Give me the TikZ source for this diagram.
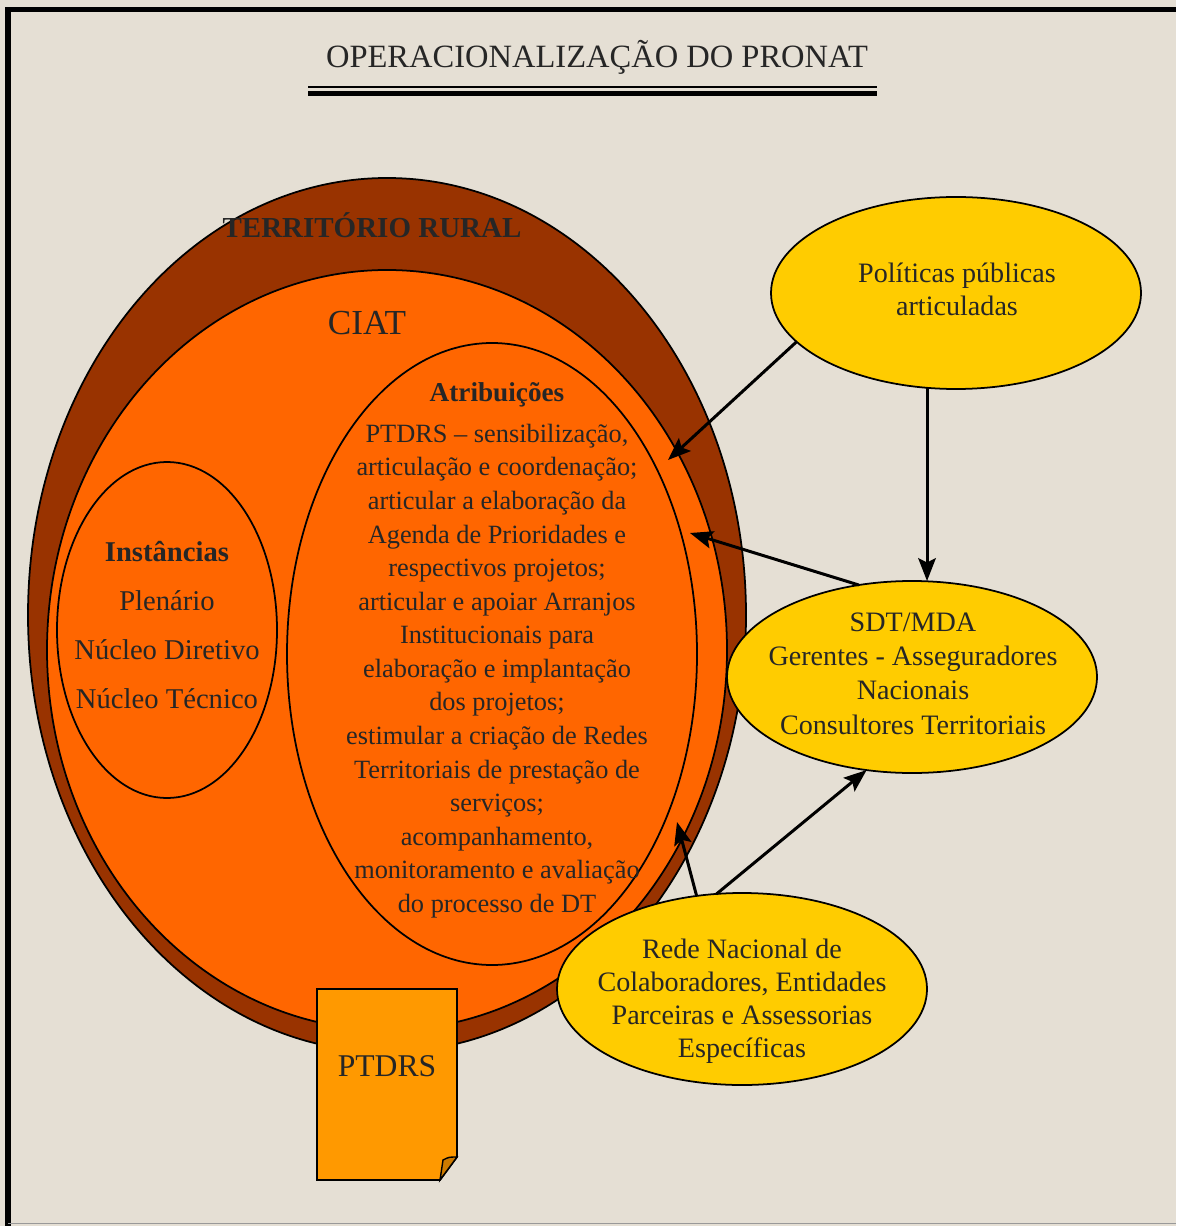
\documentclass[tikz,border=0pt]{standalone}
\usepackage{fontspec}
\setmainfont{Liberation Serif}
\usetikzlibrary{shapes.geometric,arrows.meta}

\definecolor{papel}{RGB}{229,223,212}
\definecolor{rural}{HTML}{993300}
\definecolor{ciatcor}{HTML}{FF6600}
\definecolor{amarelo}{HTML}{FFCC00}
\definecolor{docfill}{HTML}{FF9900}
\definecolor{tinta}{HTML}{262626}

\tikzset{
	elip/.style={ellipse, draw, line width=1pt, inner sep=0pt, outer sep=0pt},
	amar/.style={elip, fill=amarelo, minimum width=7.4cm, minimum height=3.84cm},
	txt/.style={text=tinta, align=center, inner sep=0pt},
	seta/.style={line width=1.7pt, -{Stealth[length=13pt,width=10pt,inset=2.5pt]}},
}

\begin{document}
\begin{tikzpicture}
	% fundo e moldura
	\fill[papel] (0,0) rectangle (23.52,-24.52);
	\useasboundingbox (0,0) rectangle (23.52,-24.52);
	\draw[line width=3.4pt] (0.16,-24.52) |- (23.52,-0.19);
	\draw[black!40, line width=0.5pt] (0.16,-24.47) -- (23.52,-24.47);

	% titulo
	\node[txt, font=\fontsize{18.5}{22}\selectfont] (titulo) at (11.94,-1.14) {OPERACIONALIZAÇÃO DO PRONAT};
	\draw[line width=0.8pt] (6.16,-1.74) -- (17.54,-1.74);
	\draw[line width=2.3pt] (6.16,-1.87) -- (17.54,-1.87);

	% elipses
	\node[elip, fill=rural, minimum width=14.36cm, minimum height=17.48cm] (territorio) at (7.74,-12.3) {};
	\node[elip, fill=ciatcor, minimum width=13.6cm, minimum height=15.2cm] (ciat) at (7.74,-13.0) {};
	\node[elip, fill=ciatcor, minimum width=4.4cm, minimum height=6.72cm] (inst) at (3.34,-12.6) {};
	\node[elip, fill=ciatcor, minimum width=8.2cm, minimum height=12.44cm] (atrib) at (9.84,-13.08) {};

	\node[txt, font=\bfseries\fontsize{16.5}{20}\selectfont] (tit-terr) at (7.44,-4.5) {TERRITÓRIO RURAL};
	\node[txt, font=\fontsize{20}{24}\selectfont] (tit-ciat) at (7.34,-6.46) {CIAT};

	\node[txt, font=\bfseries\fontsize{15.5}{18}\selectfont] (tit-atrib) at (9.94,-7.9) {Atribuições};
	\node[txt, font=\fontsize{15}{19.1}\selectfont] (txt-atrib) at (9.94,-13.42) {PTDRS – sensibilização,\\articulação e coordenação;\\articular a elaboração da\\Agenda de Prioridades e\\respectivos projetos;\\articular e apoiar Arranjos\\Institucionais para\\elaboração e implantação\\dos projetos;\\estimular a criação de Redes\\Territoriais de prestação de\\serviços;\\acompanhamento,\\monitoramento e avaliação\\do processo de DT};

	\node[txt, font=\fontsize{16.3}{27.9}\selectfont] (txt-inst) at (3.34,-12.5) {\textbf{Instâncias}\\Plenário\\Núcleo Diretivo\\Núcleo Técnico};

	% parceiros
	\node[amar] (pol) at (19.12,-5.86) {};
	\node[amar] (sdt) at (18.24,-13.54) {};
	\node[amar] (rede) at (14.84,-19.78) {};

	\node[txt, font=\fontsize{16}{18.8}\selectfont] (txt-pol) at (19.14,-5.79) {Políticas públicas\\articuladas};
	\node[txt, font=\fontsize{16}{19.5}\selectfont] (txt-sdt) at (18.26,-13.47) {SDT/MDA\\Gerentes - Asseguradores\\Nacionais\\Consultores Territoriais};
	\node[txt, font=\fontsize{16}{18.8}\selectfont] (txt-rede) at (14.84,-20.03) {Rede Nacional de\\Colaboradores, Entidades\\Parceiras e Assessorias\\Específicas};

	% documento
	\draw[fill=docfill, line width=1pt] (6.34,-19.78) -- (9.14,-19.78) -- (9.14,-23.14) -- (8.8,-23.6) -- (6.34,-23.6) -- cycle;
	\draw[fill=docfill!80!black, line width=0.8pt] (8.8,-23.6) -- (8.86,-23.2) .. controls (8.98,-23.14) .. (9.14,-23.14) -- cycle;
	\node[txt, font=\fontsize{18}{22}\selectfont] (ptdrs) at (7.74,-21.32) {PTDRS};

	% setas
	\coordinate (t1) at (13.36,-9.2);
	\coordinate (t3) at (13.8,-10.66);
	\coordinate (t4) at (13.54,-16.44);
	\draw[seta] (pol.197.5) -- (t1);
	\draw[seta] (pol.253.6) -- (pol.253.6 |- sdt.north);
	\draw[seta] (sdt.120) -- (t3);
	\draw[seta] (rede.116) -- (t4);
	\draw[seta] (rede.105) -- (sdt.244);
\end{tikzpicture}
\end{document}
